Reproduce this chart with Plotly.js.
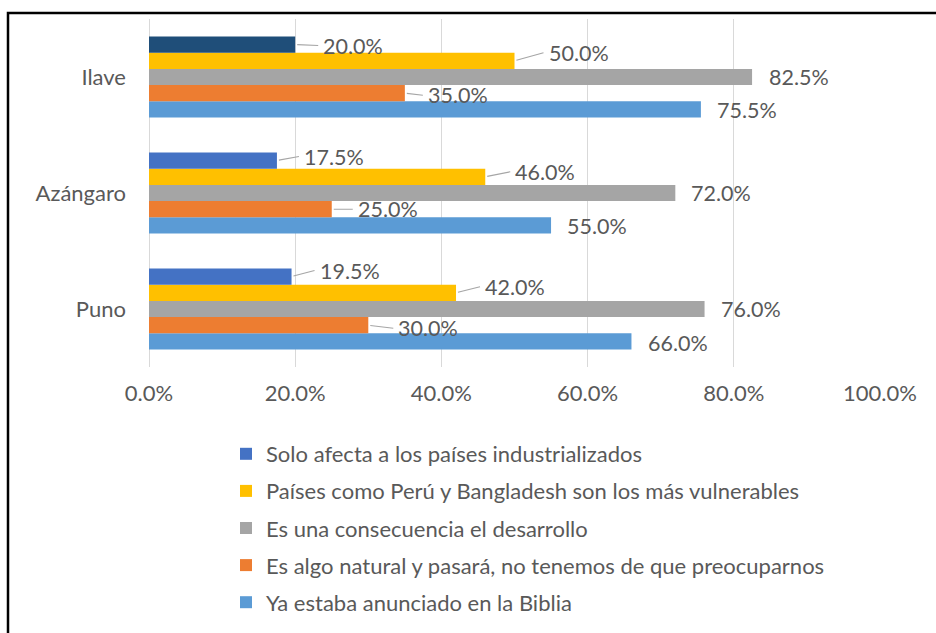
<!DOCTYPE html>
<html>
<head>
<meta charset="utf-8">
<script src="https://cdn.plot.ly/plotly-3.0.1.min.js"></script>
<style>
  html, body { margin: 0; padding: 0; background: #fff; }
  #chart { width: 936px; height: 633px; }
</style>
</head>
<body>
<div id="chart"></div>
<script>
// ---- data ----
const categories = ['Puno', 'Azángaro', 'Ilave'];

// legend order, top to bottom
const seriesNames = [
  'Solo afecta a los países industrializados',
  'Países como Perú y Bangladesh son los más vulnerables',
  'Es una consecuencia el desarrollo',
  'Es algo natural y pasará, no tenemos de que preocuparnos',
  'Ya estaba anunciado en la Biblia'
];

const soloAfecta   = [0.195, 0.175, 0.200];
const paisesVuln   = [0.420, 0.460, 0.500];
const consecuencia = [0.760, 0.720, 0.825];
const algoNatural  = [0.300, 0.250, 0.350];
const biblia       = [0.660, 0.550, 0.755];

const xTickVals = [0, 0.2, 0.4, 0.6, 0.8, 1.0];

// ---- styles ----
const seriesValues = [soloAfecta, paisesVuln, consecuencia, algoNatural, biblia];
const seriesColors = [
  ['#4472C4', '#4472C4', '#1F4E79'],
  '#FFC000',
  '#A5A5A5',
  '#ED7D31',
  '#5B9BD5'
];
const hasLeader = [true, true, false, true, false];

// label offsets in pixels [dx from bar end, dy upward], per series (legend order) and category
const labelOffsets = [
  [[27, 6], [26, 4], [27, -1]],
  [[28, 6], [29, 5], [33, 8]],
  [[15, 0], [15, 0], [16, 0]],
  [[29, -3], [25, 0], [22, -2]],
  [[16, -2], [15, -1], [15, -1]]
];

const FONT = 'Lato, "Liberation Sans", sans-serif';
const TXT = '#595959';
const FS = 22;
const FS_LABEL = 21.5;

const W = 936, H = 633;
const M = { l: 149, r: 56, t: 19, b: 266, autoexpand: false };
const plotH = H - M.t - M.b;
const plotW = W - M.l - M.r;
const BARGAP = 0.3;
const barPx = (plotH / categories.length) * (1 - BARGAP) / seriesNames.length;

// traces: plotted bottom-to-top in group, so reverse legend order
const traces = [];
for (let k = seriesNames.length - 1; k >= 0; k--) {
  traces.push({
    type: 'bar',
    orientation: 'h',
    name: seriesNames[k],
    y: categories,
    x: seriesValues[k],
    marker: { color: seriesColors[k], line: { width: 0 } },
    legendgroup: 'g' + k,
    legendrank: (k + 1) * 10,
    hoverinfo: 'x+name'
  });
}

// data labels as annotations
const annotations = [];
seriesNames.forEach((name, k) => {
  const j = seriesNames.length - 1 - k; // position in group from bottom
  const baseShift = (j - (seriesNames.length - 1) / 2) * barPx;
  categories.forEach((cat, i) => {
    const v = seriesValues[k][i];
    const [dx, dy] = labelOffsets[k][i];
    const text = (v * 100).toFixed(1) + '%';
    if (hasLeader[k]) {
      annotations.push({
        x: v, y: cat, xref: 'x', yref: 'y',
        text: text,
        showarrow: true, arrowhead: 0, arrowwidth: 1.2, arrowcolor: '#A6A6A6',
        ax: dx - 4, ay: -dy, axref: 'pixel', ayref: 'pixel',
        xanchor: 'left', yanchor: 'middle',
        borderpad: 4, standoff: 2,
        yshift: baseShift,
        font: { family: FONT, size: FS_LABEL, color: TXT }
      });
    } else {
      annotations.push({
        x: v, y: cat, xref: 'x', yref: 'y',
        text: text,
        showarrow: false,
        xanchor: 'left', yanchor: 'middle',
        xshift: dx, yshift: baseShift + dy,
        borderpad: 0,
        font: { family: FONT, size: FS_LABEL, color: TXT }
      });
    }
  });
});

const layout = {
  width: W, height: H,
  margin: M,
  paper_bgcolor: '#ffffff',
  plot_bgcolor: '#ffffff',
  barmode: 'group',
  bargap: BARGAP,
  bargroupgap: 0,
  font: { family: FONT, size: FS, color: TXT },
  showlegend: true,
  legend: {
    orientation: 'v',
    x: (226 - M.l) / plotW, xanchor: 'left',
    y: (H - M.b - 433) / plotH, yanchor: 'top',
    traceorder: 'grouped',
    tracegroupgap: 5.5,
    font: { family: FONT, size: FS, color: TXT },
    bgcolor: 'rgba(0,0,0,0)'
  },
  xaxis: {
    range: [0, 1],
    tickvals: xTickVals,
    tickformat: '.1%',
    showgrid: true, gridcolor: '#D9D9D9', gridwidth: 1,
    zeroline: true, zerolinecolor: '#D9D9D9', zerolinewidth: 1,
    showline: false, ticks: '',
    ticklabelstandoff: 11,
    tickfont: { family: FONT, size: FS, color: TXT },
    fixedrange: true
  },
  yaxis: {
    type: 'category',
    categoryorder: 'array', categoryarray: categories,
    showgrid: false, zeroline: false, showline: false, ticks: '',
    ticklabelstandoff: 22,
    tickfont: { family: FONT, size: FS, color: TXT },
    fixedrange: true
  },
  annotations: annotations,
  shapes: [{
    type: 'rect', xref: 'paper', yref: 'paper',
    x0: (8 - M.l) / plotW, x1: 2,
    y0: -2, y1: (H - M.b - 13) / plotH,
    line: { color: '#000000', width: 2.5 },
    fillcolor: 'rgba(0,0,0,0)',
    layer: 'above'
  }]
};

Plotly.newPlot('chart', traces, layout, { displayModeBar: false, staticPlot: true });
</script>
</body>
</html>
